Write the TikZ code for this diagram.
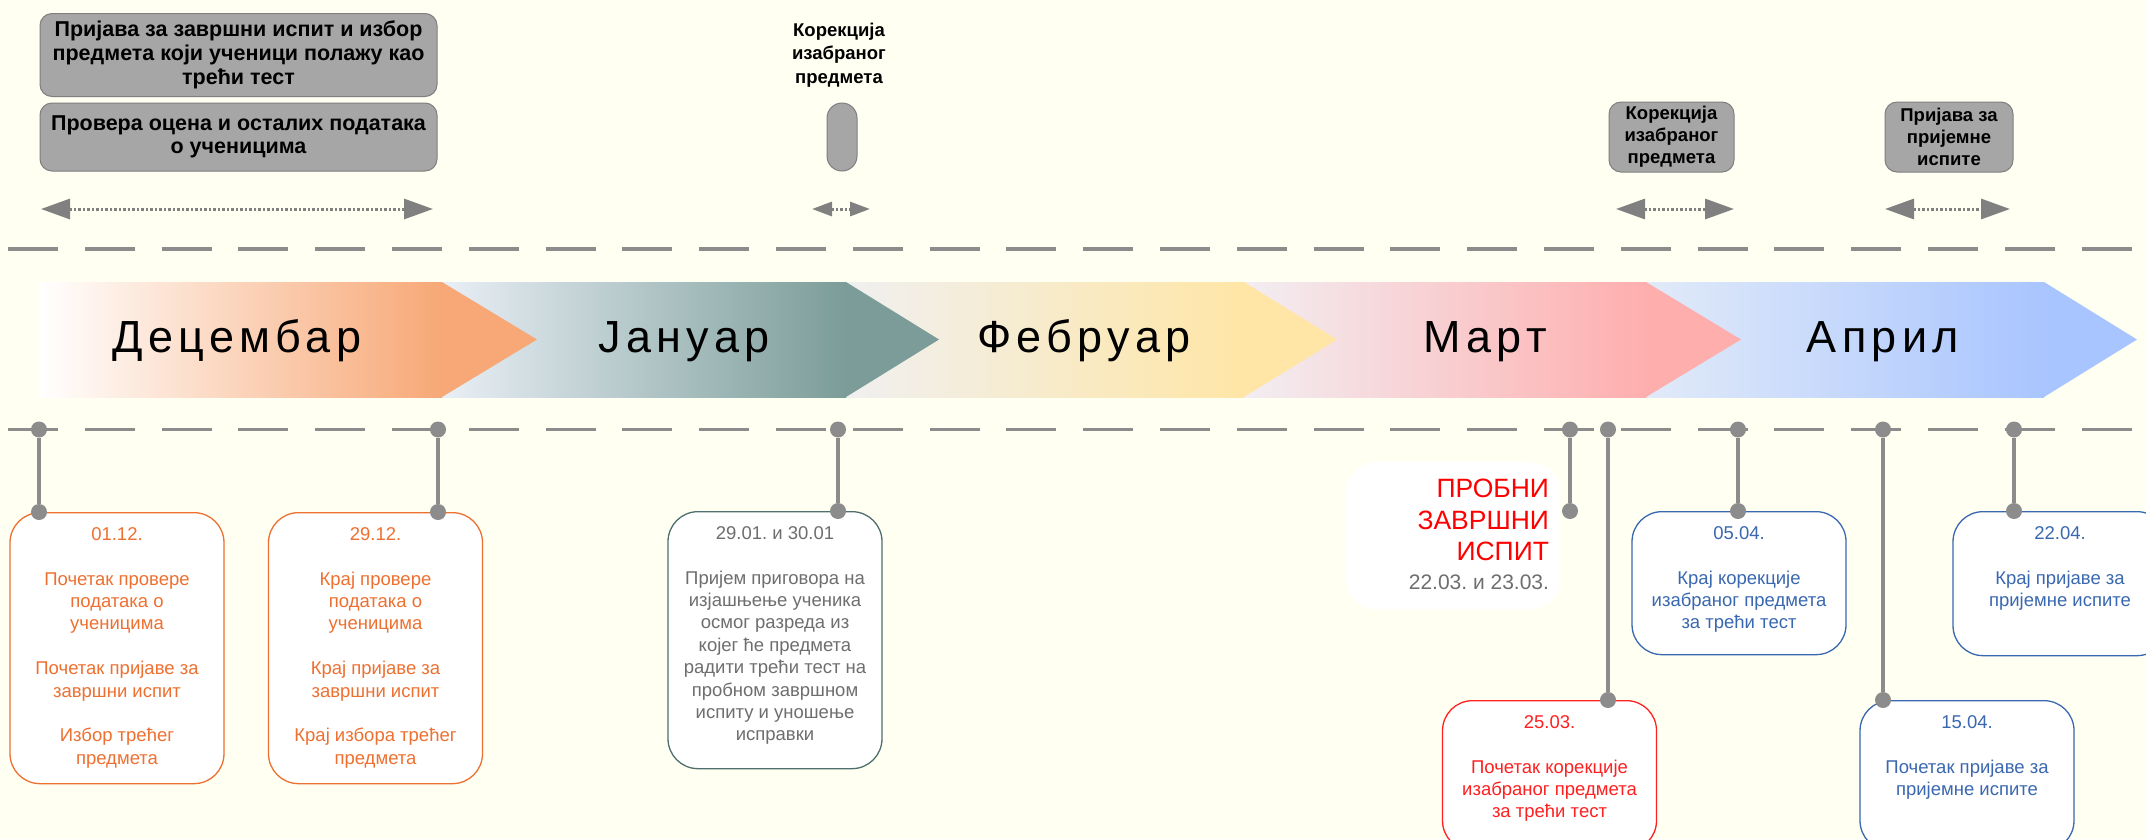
\documentclass[tikz,border=0pt]{standalone}
\usepackage{fontspec}
\setmainfont{Liberation Sans}
\newfontfamily\monthfont[LetterSpace=12]{Liberation Sans}
\usetikzlibrary{arrows.meta,positioning}
\definecolor{bg}{HTML}{FFFFF2}
\definecolor{linegray}{HTML}{8C8C8C}
\definecolor{arrowgray}{HTML}{808080}
\definecolor{boxgray}{HTML}{A6A6A6}
\definecolor{boxedge}{HTML}{7F7F7F}
\definecolor{evorange}{HTML}{EE7030}
\definecolor{evslate}{HTML}{4F6E6E}
\definecolor{evgray}{HTML}{6E6E6E}
\definecolor{evred}{HTML}{FF2020}
\definecolor{evblue}{HTML}{3A68B0}
\definecolor{decL}{HTML}{FFFFFF}\definecolor{decR}{HTML}{F7A876}
\definecolor{janL}{HTML}{E9EFF6}\definecolor{janR}{HTML}{7B9C99}
\definecolor{febL}{HTML}{F0F0F0}\definecolor{febR}{HTML}{FFE6A6}
\definecolor{marL}{HTML}{F2EEF2}\definecolor{marR}{HTML}{FFAEAE}
\definecolor{aprL}{HTML}{E1EAF8}\definecolor{aprR}{HTML}{A9C5FF}
\tikzset{
  knob/.style={circle,fill=linegray,inner sep=0pt,minimum size=16pt},
  stem/.style={linegray,line width=3.5pt},
  axisline/.style={linegray,line width=3.5pt,dash pattern=on 50pt off 26.8pt},
  graybox/.style={draw=boxedge,fill=boxgray,rounded corners=12pt,line width=1pt,align=center,font=\bfseries\fontsize{18.5}{22}\selectfont},
  event/.style={draw,fill=white,rounded corners=30pt,line width=1.3pt,inner xsep=9pt,inner ysep=0pt,anchor=north,font=\fontsize{18.5}{22.4}\selectfont},
  spanarrow/.style={arrowgray,line width=3pt,dash pattern=on 2.5pt off 2pt,>={Triangle[length=29pt,width=20pt]},<->},
  month/.style={anchor=base,font=\monthfont\fontsize{45}{54}\selectfont}
}
\newcommand\evtext[2]{\parbox[t][#1][t]{196pt}{\centering\rule{0pt}{27.6pt}#2}}
\frenchspacing
\begin{document}
\begin{tikzpicture}[x=1pt,y=-1pt]
  \useasboundingbox (0,0) rectangle (2146,839);
  \fill[bg] (0,0) rectangle (2146,839);
  \clip (0,0) rectangle (2146,839);

  \node[graybox,minimum width=397pt,minimum height=83pt,font=\bfseries\fontsize{21.5}{24}\selectfont] (enrol) at (238.5,55) {Пријава за завршни испит и избор\\предмета који ученици полажу као\\трећи тест};
  \node[graybox,minimum width=397pt,minimum height=68pt,font=\bfseries\fontsize{21.5}{23}\selectfont] (check) at (238.5,137) {Провера оцена и осталих података\\о ученицима};
  \coordinate (enrolL) at (41,209);
  \coordinate (enrolR) at (433,209);
  \draw[spanarrow] (enrolL) -- (enrolR);

  \node[align=center,font=\bfseries\fontsize{18.5}{23.5}\selectfont] (fixlbl) at (839,55) {Корекција\\изабраног\\предмета};
  \node[graybox,minimum width=30pt,minimum height=68pt,rounded corners=15pt,inner sep=0pt] (pill) at (842,137) {};
  \coordinate (fixL) at (812,209);
  \coordinate (fixR) at (870,209);
  \draw[spanarrow,>={Triangle[length=20pt,width=14pt]}] (fixL) -- (fixR);

  \node[graybox,minimum width=125pt,minimum height=70pt] (fixbox) at (1671.5,137) {Корекција\\изабраног\\предмета};
  \node[graybox,minimum width=128pt,minimum height=70pt] (apply) at (1949,137) {Пријава за\\пријемне\\испите};
  \coordinate (fixboxL) at (1616,209);
  \coordinate (fixboxR) at (1734,209);
  \draw[spanarrow] (fixboxL) -- (fixboxR);
  \coordinate (applyL) at (1885,209);
  \coordinate (applyR) at (2010,209);
  \draw[spanarrow] (applyL) -- (applyR);

  \draw[axisline] (8,249) -- (2146,249);
  \draw[axisline] (8,429.5) -- (2146,429.5);

  \shade[left color=aprL,right color=aprR] (1646,282) rectangle (2044,397);
  \fill[aprR] (2044,282) -- (2137,339.5) -- (2044,397) -- cycle;
  \shade[left color=marL,right color=marR] (1244,282) rectangle (1646,397);
  \fill[marR] (1646,282) -- (1741,339.5) -- (1646,397) -- cycle;
  \shade[left color=febL,right color=febR] (846,282) rectangle (1244,397);
  \fill[febR] (1244,282) -- (1337,339.5) -- (1244,397) -- cycle;
  \shade[left color=janL,right color=janR] (442,282) rectangle (846,397);
  \fill[janR] (846,282) -- (939,339.5) -- (846,397) -- cycle;
  \shade[left color=decL,right color=decR] (40,282) rectangle (442,397);
  \fill[decR] (442,282) -- (537,339.5) -- (442,397) -- cycle;
  \node[month] (dec) at (237,352) {Децембар};
  \node[month] (jan) at (684,352) {Јануар};
  \node[month] (feb) at (1084,352) {Фебруар};
  \node[month] (mar) at (1485,352) {Март};
  \node[month] (apr) at (1883,352) {Април};

  \node[event,draw=evorange,text=evorange] (d0112) at (117,512) {\evtext{271pt}{01.12.\\[22.4pt]Почетак провере\\података о\\ученицима\\[22.4pt]Почетак пријаве за\\завршни испит\\[22.4pt]Избор трећег\\предмета}};
  \node[event,draw=evorange,text=evorange] (d2912) at (375.5,512) {\evtext{271pt}{29.12.\\[22.4pt]Крај провере\\података о\\ученицима\\[22.4pt]Крај пријаве за\\завршни испит\\[22.4pt]Крај избора трећег\\предмета}};
  \node[event,draw=evslate,text=evgray] (d2901) at (775,511) {\evtext{257pt}{29.01. и 30.01\\[22.4pt]Пријем приговора на\\изјашњење ученика\\осмог разреда из\\којег ће предмета\\радити трећи тест на\\пробном завршном\\испиту и уношење\\исправки}};
  \node[fill=white,rounded corners=30pt,inner xsep=11pt,inner ysep=0pt,anchor=north] (mock) at (1453,462) {\parbox[t][147pt][t]{192pt}{\raggedleft\rule{0pt}{35.5pt}\fontsize{26.5}{31.5}\selectfont\color{red}ПРОБНИ\\ЗАВРШНИ\\ИСПИТ\par\vspace{4pt}\fontsize{21}{25}\selectfont\color{evgray}22.03. и 23.03.\par}};
  \node[event,draw=evred,text=evred] (d2503) at (1549.5,700) {\evtext{150pt}{25.03.\\[22.4pt]Почетак корекције\\изабраног предмета\\за трећи тест}};
  \node[event,draw=evblue,text=evblue] (d0504) at (1739,511) {\evtext{143pt}{05.04.\\[22.4pt]Крај корекције\\изабраног предмета\\за трећи тест}};
  \node[event,draw=evblue,text=evblue] (d1504) at (1967,700) {\evtext{150pt}{15.04.\\[22.4pt]Почетак пријаве за\\пријемне испите}};
  \node[event,draw=evblue,text=evblue] (d2204) at (2060,511) {\evtext{144pt}{22.04.\\[22.4pt]Крај пријаве за\\пријемне испите}};

  \node[knob] (k1a) at (39,429.5) {};   \node[knob] (k1b) at (39,512) {};
  \node[knob] (k2a) at (438,429.5) {};  \node[knob] (k2b) at (438,512) {};
  \node[knob] (k3a) at (838,429.5) {};  \node[knob] (k3b) at (838,511) {};
  \node[knob] (k4a) at (1570,429.5) {}; \node[knob] (k4b) at (1570,511) {};
  \node[knob] (k5a) at (1608,429.5) {}; \node[knob] (k5b) at (1608,700) {};
  \node[knob] (k6a) at (1738,429.5) {}; \node[knob] (k6b) at (1738,511) {};
  \node[knob] (k7a) at (1883,429.5) {}; \node[knob] (k7b) at (1883,700) {};
  \node[knob] (k8a) at (2014,429.5) {}; \node[knob] (k8b) at (2014,511) {};
  \draw[stem] (k1a) -- (k1b);
  \draw[stem] (k2a) -- (k2b);
  \draw[stem] (k3a) -- (k3b);
  \draw[stem] (k4a) -- (k4b);
  \draw[stem] (k5a) -- (k5b);
  \draw[stem] (k6a) -- (k6b);
  \draw[stem] (k7a) -- (k7b);
  \draw[stem] (k8a) -- (k8b);
\end{tikzpicture}
\end{document}
